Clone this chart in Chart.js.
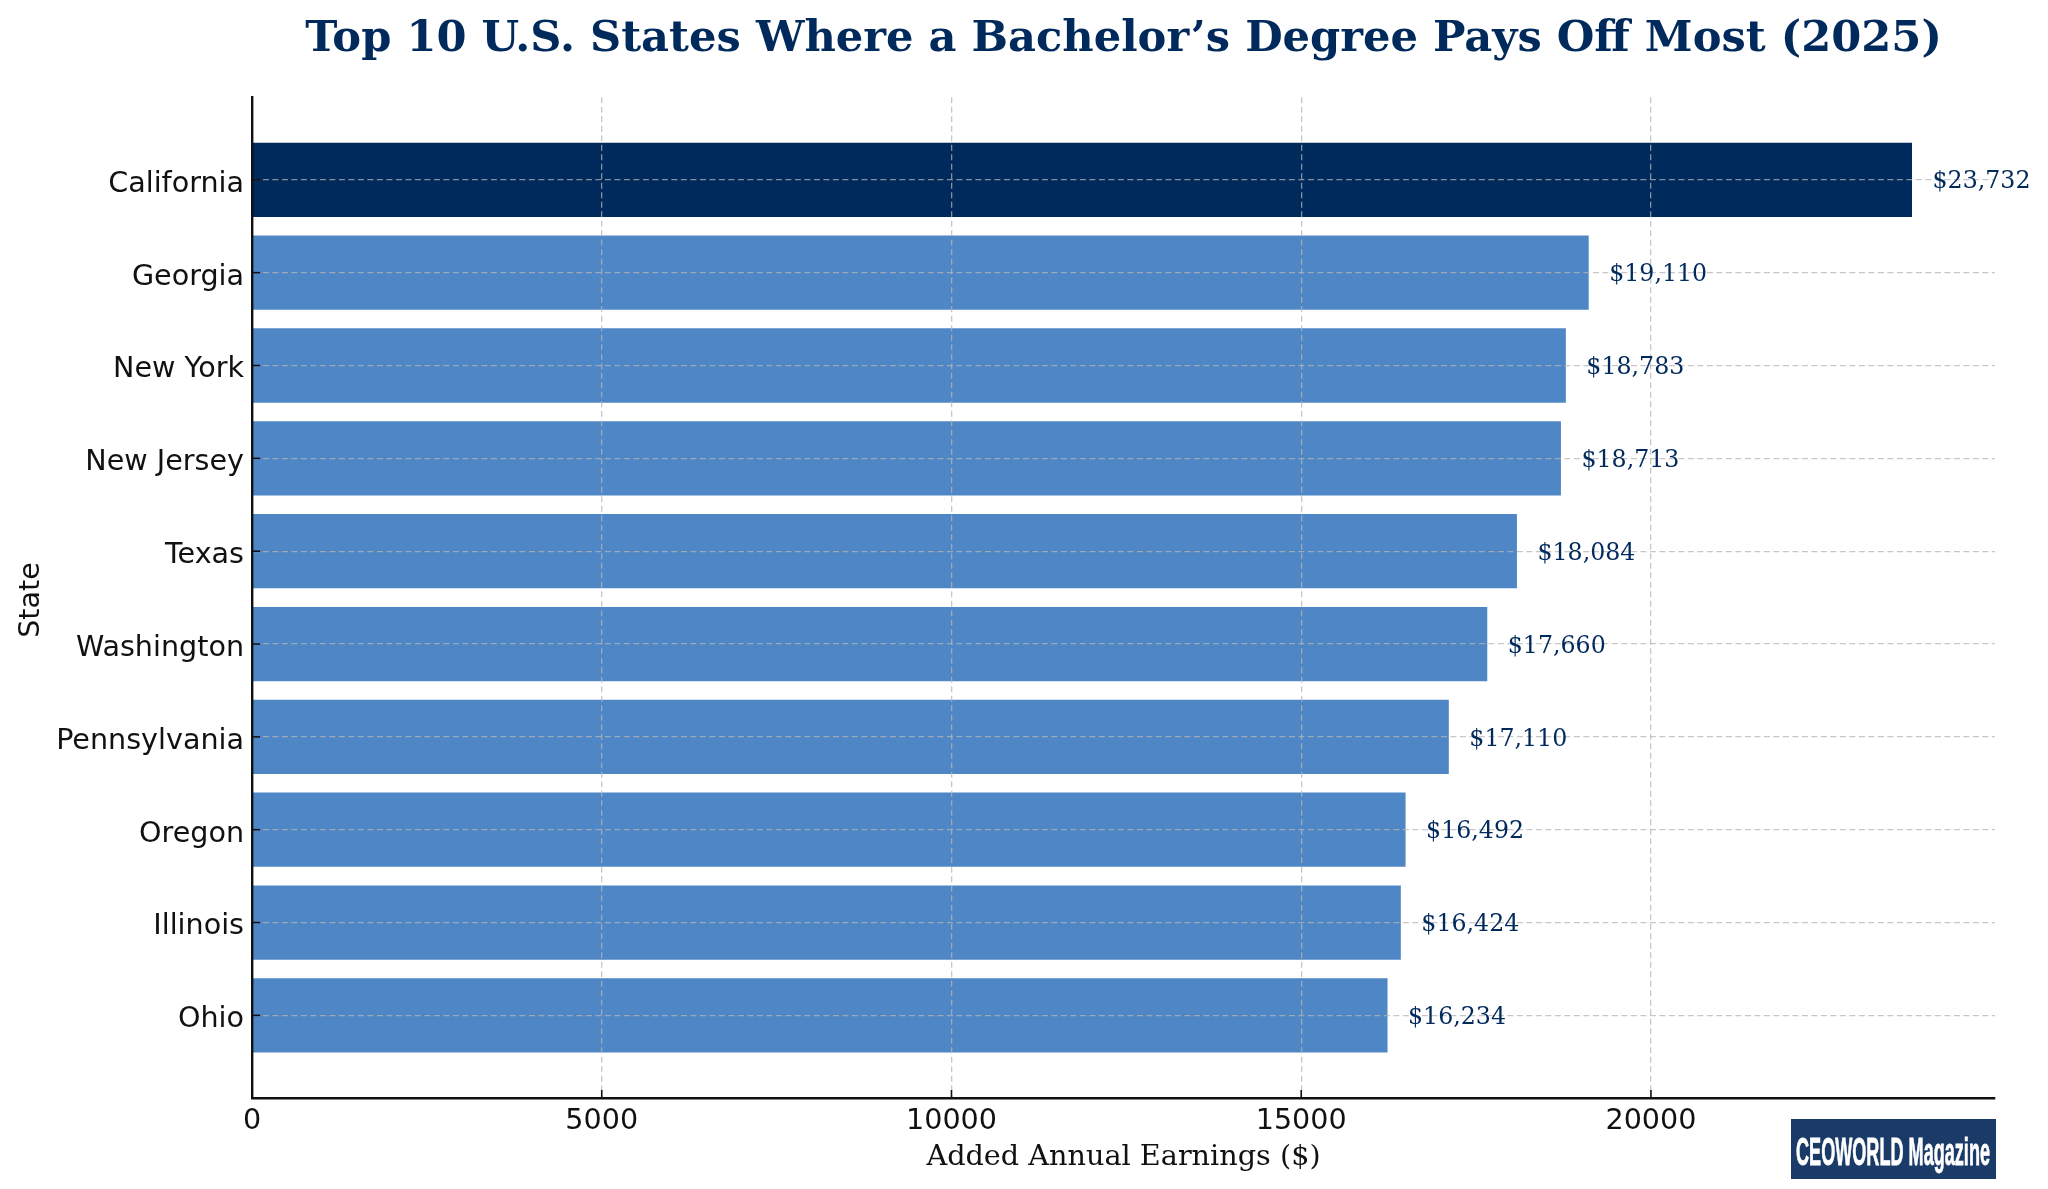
<!DOCTYPE html>
<html>
<head>
<meta charset="utf-8">
<title>Top 10 U.S. States</title>
<script src="https://cdn.jsdelivr.net/npm/chart.js@4"></script>
<style>
  html, body { margin: 0; padding: 0; background: #fff; }
  canvas { display: block; }
</style>
</head>
<body>
<canvas id="bar" width="2048" height="1189"></canvas>
<script>
const states = ["California", "Georgia", "New York", "New Jersey", "Texas", "Washington", "Pennsylvania", "Oregon", "Illinois", "Ohio"];
const earnings = [23732, 19110, 18783, 18713, 18084, 17660, 17110, 16492, 16424, 16234];
const xTicks = [0, 5000, 10000, 15000, 20000];
const titleText = "Top 10 U.S. States Where a Bachelor\u2019s Degree Pays Off Most (2025)";
const xTitle = "Added Annual Earnings ($)";
const yTitle = "State";
const logoText = "CEOWORLD Magazine";

const NAVY = "#00295c";
const BLUE = "#4f87c6";
const INK = "#111111";
const GRID = "rgba(180, 180, 180, 0.75)";

const extras = {
	id: "extras",
	afterDraw(chart) {
		const { ctx, scales } = chart;
		const bars = chart.getDatasetMeta(0).data;

		// value labels
		ctx.save();
		ctx.font = "23.7px 'DejaVu Serif'";
		ctx.fillStyle = NAVY;
		ctx.textAlign = "left";
		ctx.textBaseline = "middle";
		earnings.forEach((v, i) => {
			ctx.fillText("$" + v.toLocaleString("en-US"), scales.x.getPixelForValue(v) + 20.5, bars[i].y + 2.5);
		});
		ctx.restore();

		// short inward tick marks
		ctx.save();
		ctx.strokeStyle = INK;
		ctx.lineWidth = 1.6;
		scales.x.ticks.forEach((t) => {
			const px = scales.x.getPixelForValue(t.value);
			ctx.beginPath();
			ctx.moveTo(px, scales.x.top);
			ctx.lineTo(px, scales.x.top - 8);
			ctx.stroke();
		});
		scales.y.ticks.forEach((t) => {
			const py = scales.y.getPixelForValue(t.value);
			ctx.beginPath();
			ctx.moveTo(scales.y.right, py);
			ctx.lineTo(scales.y.right + 8, py);
			ctx.stroke();
		});
		ctx.restore();

		// y axis title
		ctx.save();
		ctx.translate(32, 600);
		ctx.rotate(-Math.PI / 2);
		ctx.font = "28.6px 'DejaVu Sans'";
		ctx.fillStyle = INK;
		ctx.textAlign = "center";
		ctx.textBaseline = "middle";
		ctx.fillText(yTitle, 0, 0);
		ctx.restore();

		// logo
		ctx.save();
		ctx.fillStyle = "#1a3a68";
		ctx.fillRect(1791, 1119, 205, 60);
		ctx.fillStyle = "#ffffff";
		ctx.strokeStyle = "#ffffff";
		ctx.lineWidth = 0.8;
		ctx.font = "bold 39px 'Liberation Sans'";
		ctx.textAlign = "left";
		ctx.textBaseline = "alphabetic";
		ctx.fillText(logoText, 1796, 1165, 194);
		ctx.strokeText(logoText, 1796, 1165, 194);
		ctx.restore();
	},
};

const ctx2 = document.getElementById("bar").getContext("2d");
const bar = new Chart(ctx2, {
	type: "bar",
	data: {
		datasets: [
			{
				data: earnings.map((v, i) => ({ x: v, y: i })),
				backgroundColor: earnings.map((v, i) => (i === 0 ? NAVY : BLUE)),
				categoryPercentage: 0.8,
				barPercentage: 1,
				borderWidth: 0,
			},
		],
	},
	plugins: [extras],
	options: {
		indexAxis: "y",
		responsive: false,
		animation: false,
		devicePixelRatio: 1,
		layout: { padding: { top: 0, right: 53, bottom: 0, left: 0 } },
		plugins: {
			legend: { display: false },
			tooltip: { enabled: false },
			title: {
				display: true,
				text: titleText,
				fullSize: false,
				color: NAVY,
				font: { family: "'DejaVu Serif'", size: 43.2, weight: "bold", lineHeight: 1 },
				padding: { top: 18, bottom: 36 },
			},
		},
		scales: {
			x: {
				type: "linear",
				min: 0,
				max: 24918.6,
				afterBuildTicks: (s) => { s.ticks = xTicks.map((value) => ({ value })); },
				afterFit: (s) => { s.height = 91; },
				grid: { color: GRID, lineWidth: 1.3, drawTicks: false, z: 1 },
				border: { color: INK, width: 2.4, dash: [6, 3.5], z: 2 },
				ticks: {
					color: INK,
					padding: 6,
					maxRotation: 0,
					autoSkip: false,
					font: { family: "'DejaVu Sans'", size: 28.6 },
					callback: (v) => String(v),
				},
				title: {
					display: true,
					text: xTitle,
					color: INK,
					font: { family: "'DejaVu Serif'", size: 28.7, lineHeight: 1.2 },
					padding: { top: 0, bottom: 14 },
				},
			},
			y: {
				type: "linear",
				reverse: true,
				offset: false,
				min: -0.89,
				max: 9.89,
				afterBuildTicks: (s) => { s.ticks = states.map((_, value) => ({ value })); },
				afterFit: (s) => { s.width = 252; },
				grid: { color: GRID, lineWidth: 1.3, drawTicks: false, offset: false, z: 1 },
				border: { color: INK, width: 2.4, dash: [6, 3.5], z: 2 },
				ticks: {
					color: INK,
					padding: 8,
					labelOffset: 4.5,
					autoSkip: false,
					font: { family: "'DejaVu Sans'", size: 28.6 },
					callback: (v) => states[v],
				},
			},
		},
	},
});
</script>
</body>
</html>
